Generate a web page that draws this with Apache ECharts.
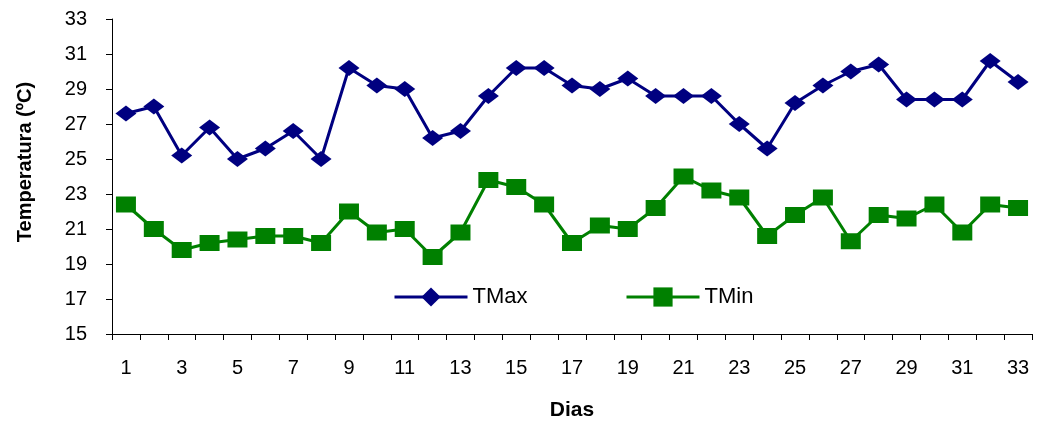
<!DOCTYPE html>
<html><head><meta charset="utf-8">
<script src="https://cdn.jsdelivr.net/npm/echarts@6/dist/echarts.min.js"></script>
<style>html,body{margin:0;padding:0;background:#fff}#c{width:1039px;height:423px}</style>
</head><body><div id="c"></div>
<script>
const days = ['1','2','3','4','5','6','7','8','9','10','11','12','13','14','15','16','17','18','19','20','21','22','23','24','25','26','27','28','29','30','31','32','33'];
const tMax = [27.6,28.0,25.2,26.8,25.0,25.6,26.6,25.0,30.2,29.2,29.0,26.2,26.6,28.6,30.2,30.2,29.2,29.0,29.6,28.6,28.6,28.6,27.0,25.6,28.2,29.2,30.0,30.4,28.4,28.4,28.4,30.6,29.4];
const tMin = [22.4,21.0,19.8,20.2,20.4,20.6,20.6,20.2,22.0,20.8,21.0,19.4,20.8,23.8,23.4,22.4,20.2,21.2,21.0,22.2,24.0,23.2,22.8,20.6,21.8,22.8,20.3,21.8,21.6,22.4,20.8,22.4,22.2];
const seriesNames = ['TMax','TMin'];
const yTitle = 'Temperatura (ºC)';
const xTitle = 'Dias';

const chart = echarts.init(document.getElementById('c'), null, {renderer:'canvas'});
const font = 'Liberation Sans, Arial, sans-serif';
const legendBase = {top:281, itemWidth:73, itemHeight:24, lineStyle:{width:3}, textStyle:{fontFamily:font,fontSize:22,color:'#000'}};
chart.setOption({
  animation:false,
  grid:{left:112,right:7,top:19,bottom:89,containLabel:false,outerBoundsMode:'none'},
  legend:[
    Object.assign({data:[seriesNames[0]], left:388}, legendBase),
    Object.assign({data:[seriesNames[1]], left:620}, legendBase)
  ],
  graphic:[{
    type:'text', x:25, y:162, rotation:Math.PI/2, origin:[0,0],
    style:{text:yTitle, font:'bold 20px '+font, fill:'#000', align:'center', verticalAlign:'middle'}
  }],
  xAxis:{
    type:'category', data:days, boundaryGap:true,
    name:xTitle, nameLocation:'middle', nameGap:66,
    nameTextStyle:{fontFamily:font,fontSize:21,fontWeight:'bold',color:'#000'},
    axisLine:{lineStyle:{color:'#000',width:1}},
    axisTick:{show:true,interval:0,length:6,alignWithLabel:false,lineStyle:{color:'#000'}},
    axisLabel:{interval:1,margin:24,fontFamily:font,fontSize:20,color:'#000'},
    splitLine:{show:false}
  },
  yAxis:{
    type:'value', min:15, max:33, interval:2,
    axisLine:{show:true,lineStyle:{color:'#000',width:1}},
    axisTick:{show:true,length:6,lineStyle:{color:'#000'}},
    axisLabel:{margin:25,fontFamily:font,fontSize:20,color:'#000'},
    splitLine:{show:false}
  },
  series:[
    {name:seriesNames[0], type:'line', data:tMax, symbol:'diamond', symbolSize:[21,16],
     lineStyle:{color:'#000080',width:3}, itemStyle:{color:'#000080'}},
    {name:seriesNames[1], type:'line', data:tMin, symbol:'rect', symbolSize:[20,16],
     lineStyle:{color:'#008000',width:3}, itemStyle:{color:'#008000'}}
  ]
});
</script></body></html>
